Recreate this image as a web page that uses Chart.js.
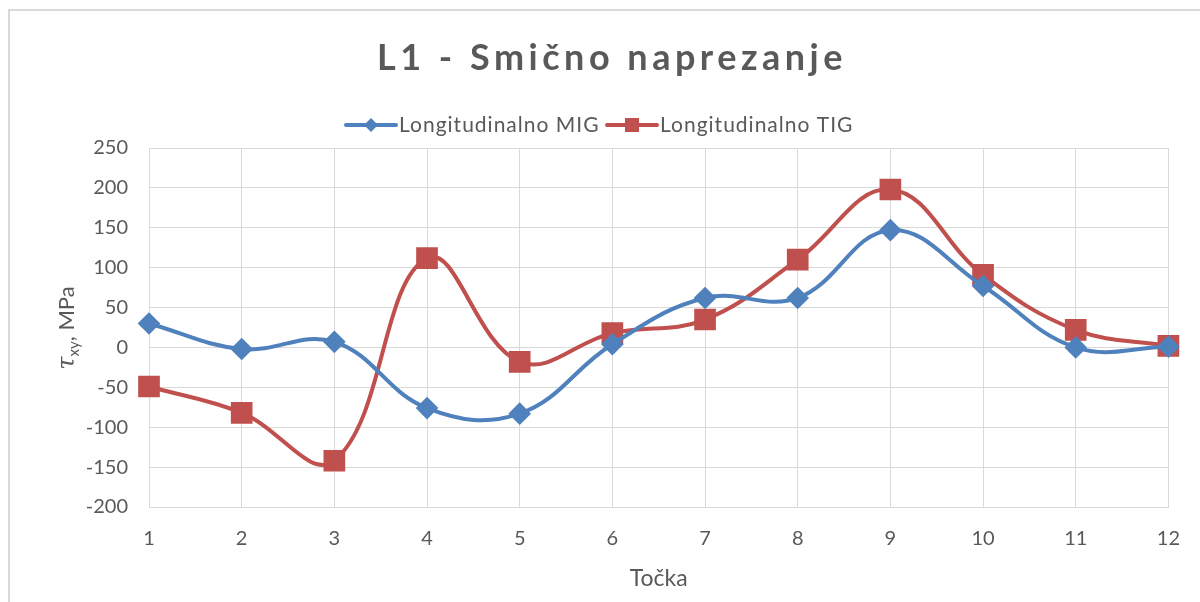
<!DOCTYPE html>
<html>
<head>
<meta charset="utf-8">
<script src="https://cdn.jsdelivr.net/npm/chart.js@4.4.1/dist/chart.umd.min.js"></script>
<style>
  html, body { margin: 0; padding: 0; background: #fff; }
  #wrap { width: 1200px; height: 602px; }
</style>
</head>
<body>
<div id="wrap"><canvas id="chart" width="1200" height="602"></canvas></div>
<script>
// podaci sa grafa
const tocke = ['1', '2', '3', '4', '5', '6', '7', '8', '9', '10', '11', '12'];
const migValues = [30, -2, 7, -76, -83, 4, 62, 62, 147, 77, 0, 1];
const tigValues = [-49, -82, -142, 112, -18, 18, 35, 110, 198, 91, 22, 2];
const seriesNames = ['Longitudinalno MIG', 'Longitudinalno TIG'];
const yMin = -200;
const yMax = 250;
const yStep = 50;
const chartTitle = 'L1 - Smično naprezanje';
const xTitle = 'Točka';

const textColor = '#595959';
const gridColor = '#d9d9d9';
const blue = '#4f81bd';
const red = '#c0504d';

// okvir, naslov, legenda i naslov y osi
const decor = {
  id: 'decor',
  beforeDraw(chart) {
    const ctx = chart.ctx;
    ctx.save();
    ctx.fillStyle = '#fff';
    ctx.fillRect(0, 0, chart.width, chart.height);
    ctx.strokeStyle = gridColor;
    ctx.lineWidth = 2;
    ctx.strokeRect(9, 10, 1400, 800);
    ctx.restore();
  },
  afterDraw(chart) {
    const ctx = chart.ctx;
    ctx.save();

    // naslov
    ctx.fillStyle = textColor;
    ctx.font = 'bold 36px Lato';
    ctx.letterSpacing = '4.5px';
    ctx.textAlign = 'center';
    ctx.textBaseline = 'middle';
    ctx.fillText(chartTitle, 612, 58);

    // legenda
    const legendY = 125;
    const items = [
      { x: 346, color: blue, style: 'diamond', text: seriesNames[0] },
      { x: 607, color: red, style: 'square', text: seriesNames[1] }
    ];
    items.forEach(it => {
      ctx.letterSpacing = '0px';
      ctx.strokeStyle = it.color;
      ctx.fillStyle = it.color;
      ctx.lineWidth = 4;
      ctx.lineCap = 'round';
      ctx.beginPath();
      ctx.moveTo(it.x, legendY);
      ctx.lineTo(it.x + 50, legendY);
      ctx.stroke();
      const cx = it.x + 25;
      ctx.beginPath();
      if (it.style === 'diamond') {
        ctx.moveTo(cx - 7, legendY);
        ctx.lineTo(cx, legendY - 7);
        ctx.lineTo(cx + 7, legendY);
        ctx.lineTo(cx, legendY + 7);
        ctx.closePath();
      } else {
        ctx.rect(cx - 7, legendY - 7, 14, 14);
      }
      ctx.fill();
      ctx.fillStyle = textColor;
      ctx.font = '21px Lato';
      ctx.letterSpacing = '1px';
      ctx.textAlign = 'left';
      ctx.textBaseline = 'middle';
      ctx.fillText(it.text, it.x + 53, legendY);
    });
    ctx.letterSpacing = '0px';

    // naslov y osi: τxy, MPa
    ctx.translate(66, 328);
    ctx.rotate(-Math.PI / 2);
    ctx.textBaseline = 'alphabetic';
    ctx.textAlign = 'left';
    const parts = [
      { t: 'τ', font: 'italic 24px "DejaVu Serif"', dy: 0 },
      { t: 'xy', font: '15px Lato', dy: 5 },
      { t: ', MPa', font: '22px Lato', dy: 0 }
    ];
    let total = 0;
    parts.forEach(p => { ctx.font = p.font; p.w = ctx.measureText(p.t).width; total += p.w; });
    let px = -total / 2;
    parts.forEach(p => {
      ctx.font = p.font;
      ctx.fillStyle = textColor;
      ctx.fillText(p.t, px, 8 + p.dy);
      px += p.w;
    });

    ctx.restore();
  }
};

const ctx = document.getElementById('chart').getContext('2d');
new Chart(ctx, {
  type: 'line',
  data: {
    labels: tocke,
    datasets: [
      {
        label: seriesNames[0],
        data: migValues,
        borderColor: blue,
        backgroundColor: blue,
        borderWidth: 4,
        pointStyle: 'rectRot',
        pointRadius: 8.5,
        pointHoverRadius: 8.5,
        tension: 0.4,
        fill: false
      },
      {
        label: seriesNames[1],
        data: tigValues,
        borderColor: red,
        backgroundColor: red,
        borderWidth: 4,
        pointStyle: 'rect',
        pointRadius: 12.5,
        pointHoverRadius: 12.5,
        tension: 0.4,
        fill: false
      }
    ]
  },
  options: {
    responsive: false,
    animation: false,
    events: [],
    layout: { padding: { top: 148, right: 29, left: 0, bottom: 0 } },
    plugins: {
      legend: { display: false },
      title: { display: false },
      tooltip: { enabled: false }
    },
    scales: {
      x: {
        offset: false,
        grid: { color: gridColor, drawTicks: false },
        border: { color: gridColor },
        ticks: { color: textColor, font: { family: 'Lato', size: 20 }, padding: 20, maxRotation: 0 },
        title: {
          display: true,
          text: xTitle,
          color: textColor,
          font: { family: 'Lato', size: 23 },
          padding: { top: 0, bottom: 10 }
        },
        afterFit(scale) { scale.height = 95; }
      },
      y: {
        min: yMin,
        max: yMax,
        grid: { color: gridColor, drawTicks: false },
        border: { color: gridColor },
        ticks: { stepSize: yStep, color: textColor, font: { family: 'Lato', size: 20 }, padding: 21 },
        afterFit(scale) { scale.width = 149; }
      }
    }
  },
  plugins: [decor]
});
</script>
</body>
</html>
